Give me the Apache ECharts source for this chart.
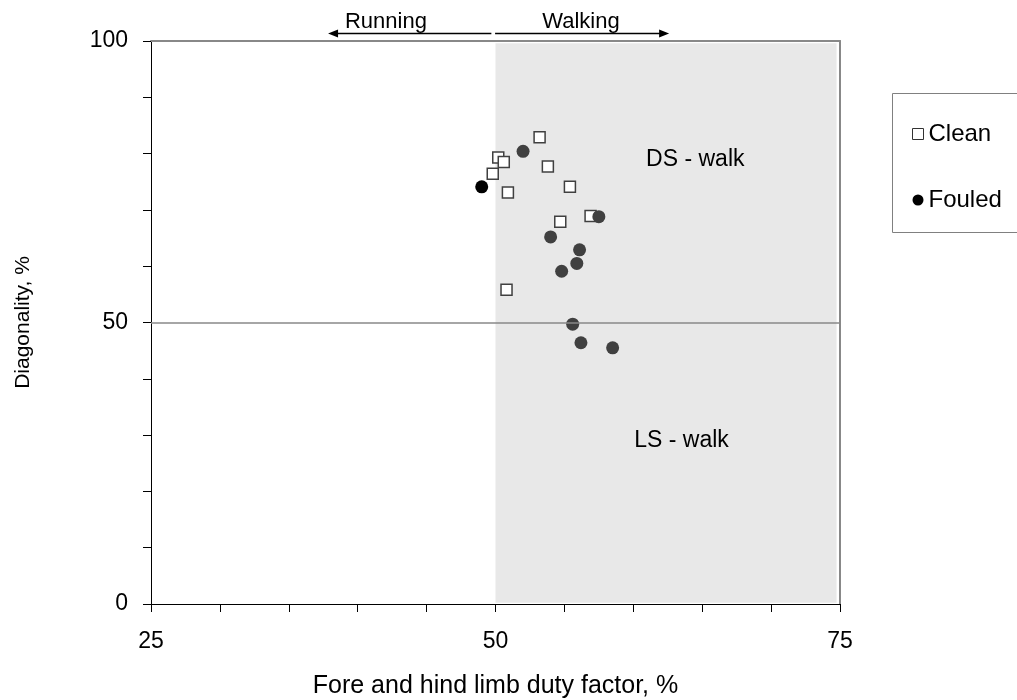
<!DOCTYPE html>
<html>
<head>
<meta charset="utf-8">
<script src="https://cdn.jsdelivr.net/npm/echarts@6/dist/echarts.min.js"></script>
<style>
html,body{margin:0;padding:0;background:#fff;}
#chart{width:1017px;height:700px;}
</style>
</head>
<body>
<div id="chart"></div>
<script>
// ---- data ----
const cleanX = [53.2, 50.2, 50.6, 49.8, 53.8, 55.4, 50.9, 56.9, 54.7, 50.8];
const cleanY = [82.9, 79.3, 78.5, 76.4, 77.7, 74.1, 73.1, 68.9, 67.9, 55.8];
const fouledX = [52.0, 49.0, 57.5, 54.0, 56.1, 55.9, 54.8, 55.6, 56.2, 58.5];
const fouledY = [80.4, 74.1, 68.8, 65.2, 62.9, 60.5, 59.1, 49.7, 46.4, 45.5];
const xTickLabels = [25, 50, 75];
const yTickLabels = [0, 50, 100];
const seriesNames = ['Clean', 'Fouled'];
const walkRegion = [50, 74.75];   // shaded walking zone (x range)
const divideY = 50;               // DS / LS boundary
const regionLabels = [
  { text: 'DS - walk', x: 64.5, y: 79 },
  { text: 'LS - walk', x: 63.5, y: 29.1 }
];
const gaitArrows = [
  { text: 'Running', from: 49.7, to: 37.85, textX: 42.05 },
  { text: 'Walking', from: 49.97, to: 62.6, textX: 56.2 }
];

const FONT = 'Liberation Sans, Arial, sans-serif';

const chart = echarts.init(document.getElementById('chart'), null, { renderer: 'canvas' });

const zip = (a, b) => a.map((v, i) => [v, b[i]]);

const option = {
  animation: false,
  backgroundColor: '#fff',
  textStyle: { fontFamily: FONT },
  grid: { left: 151, top: 41, right: 177, bottom: 96, containLabel: false, outerBoundsMode: 'none' },
  xAxis: [{
    type: 'value', min: 25, max: 75, interval: 5,
    name: 'Fore and hind limb duty factor, %',
    nameLocation: 'middle', nameGap: 70,
    nameTextStyle: { color: '#000', fontSize: 25, fontFamily: FONT },
    axisLine: { show: true, onZero: false, lineStyle: { color: '#000', width: 1 } },
    axisTick: { show: true, length: 8, lineStyle: { color: '#000' } },
    axisLabel: {
      color: '#000', fontSize: 23, fontFamily: FONT, margin: 26,
      formatter: v => xTickLabels.includes(v) ? String(v) : ''
    },
    splitLine: { show: false }
  }, {
    type: 'value', min: 25, max: 75, position: 'top',
    axisLine: { show: true, onZero: false, lineStyle: { color: '#888', width: 2 } },
    axisTick: { show: false }, axisLabel: { show: false }, splitLine: { show: false }
  }],
  yAxis: [{
    type: 'value', min: 0, max: 100, interval: 10,
    name: 'Diagonality, %',
    nameLocation: 'middle', nameGap: 117, nameRotate: 90,
    nameTextStyle: { color: '#000', fontSize: 21, fontFamily: FONT },
    axisLine: { show: true, onZero: false, lineStyle: { color: '#000', width: 1 } },
    axisTick: { show: true, length: 8, lineStyle: { color: '#000' } },
    axisLabel: {
      color: '#000', fontSize: 23, fontFamily: FONT, margin: 23,
      formatter: v => yTickLabels.includes(v) ? String(v) : ''
    },
    splitLine: { show: false }
  }, {
    type: 'value', min: 0, max: 100, position: 'right',
    axisLine: { show: true, onZero: false, lineStyle: { color: '#888', width: 2 } },
    axisTick: { show: false }, axisLabel: { show: false }, splitLine: { show: false }
  }],
  legend: {
    orient: 'vertical', left: 907, top: 117, itemGap: 42,
    itemWidth: 11, itemHeight: 11,
    textStyle: { color: '#000', fontSize: 24, fontFamily: FONT },
    data: [
      { name: seriesNames[0], icon: 'rect', itemStyle: { color: '#fff', borderColor: '#333', borderWidth: 1 } },
      { name: seriesNames[1], icon: 'circle', itemStyle: { color: '#000' } }
    ]
  },
  series: [
    {
      type: 'scatter', name: '_bg', data: [], silent: true,
      markArea: {
        silent: true,
        itemStyle: { color: '#e8e8e8' },
        data: [[{ coord: [walkRegion[0], 0.2] }, { coord: [walkRegion[1], 99.6] }]]
      },
      markLine: {
        silent: true, symbol: ['none', 'none'],
        lineStyle: { color: '#888', width: 1.5, type: 'solid' },
        label: { show: false },
        data: [[{ coord: [25, divideY] }, { coord: [75, divideY] }]]
      }
    },
    {
      type: 'scatter', name: seriesNames[0],
      symbol: 'rect', symbolSize: 11,
      itemStyle: { color: '#fff', borderColor: '#404040', borderWidth: 1.5, opacity: 1 },
      data: zip(cleanX, cleanY), z: 3
    },
    {
      type: 'scatter', name: seriesNames[1],
      symbol: 'circle', symbolSize: 13,
      itemStyle: { color: p => p.dataIndex === 1 ? '#000' : '#404040', opacity: 1 },
      data: zip(fouledX, fouledY), z: 4
    }
  ]
};
chart.setOption(option);

// annotations positioned through the chart's own coordinate system
const g = [];
regionLabels.forEach(r => {
  const p = chart.convertToPixel({ gridIndex: 0 }, [r.x, r.y]);
  g.push({ type: 'text', x: p[0], y: p[1], z: 10,
    style: { text: r.text, fill: '#000', font: '23px ' + FONT, textAlign: 'center', textVerticalAlign: 'middle' } });
});
gaitArrows.forEach(a => {
  const p1 = chart.convertToPixel({ gridIndex: 0 }, [a.from, 101.4]);
  const p2 = chart.convertToPixel({ gridIndex: 0 }, [a.to, 101.4]);
  const pt = chart.convertToPixel({ gridIndex: 0 }, [a.textX, 101.4]);
  const dir = p2[0] > p1[0] ? 1 : -1;
  const y = Math.round(p1[1]) + 0.5;
  g.push({ type: 'line', z: 10, shape: { x1: p1[0], y1: y, x2: p2[0] - dir * 6, y2: y },
    style: { stroke: '#000', lineWidth: 1.5 } });
  g.push({ type: 'polygon', z: 10,
    shape: { points: [[p2[0], y], [p2[0] - dir * 10, y - 4], [p2[0] - dir * 10, y + 4]] },
    style: { fill: '#000' } });
  g.push({ type: 'text', x: pt[0], y: y - 1, z: 10,
    style: { text: a.text, fill: '#000', font: '22px ' + FONT, textAlign: 'center', textVerticalAlign: 'bottom' } });
});
// legend frame
g.push({ type: 'rect', z: 10, shape: { x: 892.5, y: 93.5, width: 200, height: 139 },
  style: { fill: 'none', stroke: '#808080', lineWidth: 1 } });
chart.setOption({ graphic: g });
</script>
</body>
</html>
